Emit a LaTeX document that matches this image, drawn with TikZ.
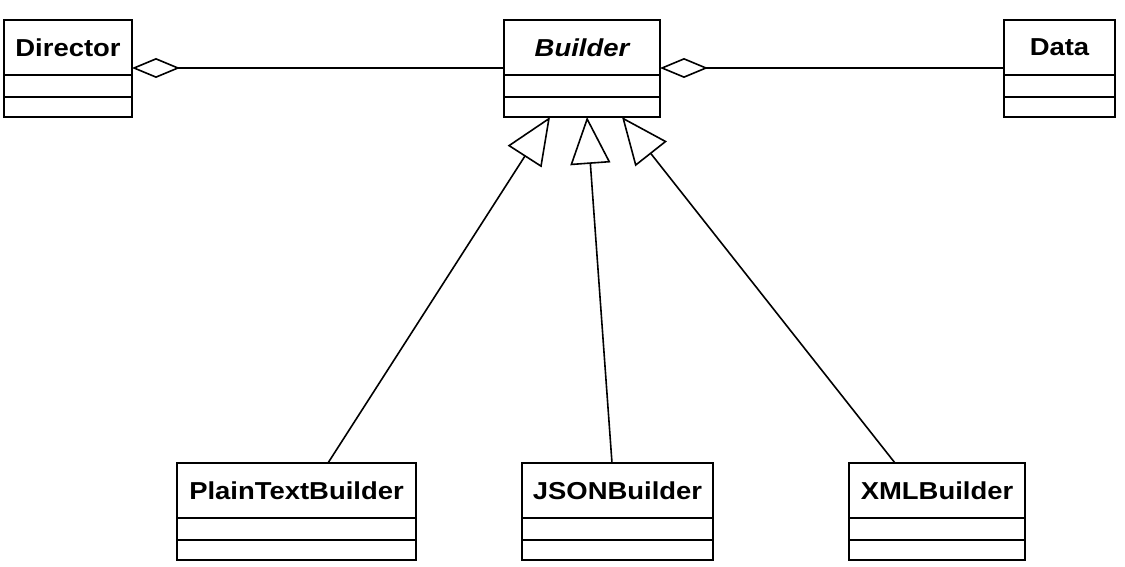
\documentclass[tikz,border=0pt]{standalone}
\usepackage{fontspec}
\newfontfamily\umlfont[FakeStretch=1.12]{Liberation Sans}
\usetikzlibrary{arrows.meta}
\tikzset{
  classhead/.style={draw, line width=1.8pt, outer sep=0pt, inner sep=0pt, minimum height=55pt,
    font=\umlfont\fontsize{24.5}{28}\selectfont\bfseries},
  classattr/.style={draw, line width=1.8pt, outer sep=0pt, inner sep=0pt, minimum height=22pt, anchor=north},
  classops/.style={draw, line width=1.8pt, outer sep=0pt, inner sep=0pt, minimum height=20pt, anchor=north},
  aggr/.style={line width=1.6pt, {Diamond[open, length=48pt, width=20pt, line width=1.6pt]}-},
  inherit/.style={line width=1.6pt, -{Triangle[open, length=47pt, width=40pt, line width=1.6pt]}}
}
\begin{document}
\begin{tikzpicture}[x=1pt, y=-1pt]
\useasboundingbox (0,0) rectangle (1125,567);
% Director
\node[classhead, minimum width=128pt] (director) at (68,47.5) {Director};
\node[classattr, minimum width=128pt] (directorA) at (director.south) {};
\node[classops, minimum width=128pt] (directorO) at (directorA.south) {};
% Builder
\node[classhead, minimum width=156pt] (builder) at (582,47.5) {\itshape Builder};
\node[classattr, minimum width=156pt] (builderA) at (builder.south) {};
\node[classops, minimum width=156pt] (builderO) at (builderA.south) {};
% Data
\node[classhead, minimum width=111pt] (data) at (1059.5,47.5) {Data};
\node[classattr, minimum width=111pt] (dataA) at (data.south) {};
\node[classops, minimum width=111pt] (dataO) at (dataA.south) {};
% PlainTextBuilder
\node[classhead, minimum width=239pt] (ptb) at (296.5,490.5) {PlainTextBuilder};
\node[classattr, minimum width=239pt] (ptbA) at (ptb.south) {};
\node[classops, minimum width=239pt] (ptbO) at (ptbA.south) {};
% JSONBuilder
\node[classhead, minimum width=191pt] (json) at (617.5,490.5) {JSONBuilder};
\node[classattr, minimum width=191pt] (jsonA) at (json.south) {};
\node[classops, minimum width=191pt] (jsonO) at (jsonA.south) {};
% XMLBuilder
\node[classhead, minimum width=176pt] (xml) at (937,490.5) {XMLBuilder};
\node[classattr, minimum width=176pt] (xmlA) at (xml.south) {};
\node[classops, minimum width=176pt] (xmlO) at (xmlA.south) {};
% aggregations
\draw[aggr] ([yshift=7pt]director.south east) -- ([yshift=7pt]builder.south west);
\draw[aggr] ([yshift=7pt]builder.south east) -- ([yshift=7pt]data.south west);
% generalizations
\draw[inherit] ([xshift=31.5pt]ptb.north) -- ([xshift=-32pt]builderO.south);
\draw[inherit] ([xshift=-5.5pt]json.north) -- ([xshift=5pt]builderO.south);
\draw[inherit] ([xshift=-42pt]xml.north) -- ([xshift=40pt]builderO.south);
\end{tikzpicture}
\end{document}
